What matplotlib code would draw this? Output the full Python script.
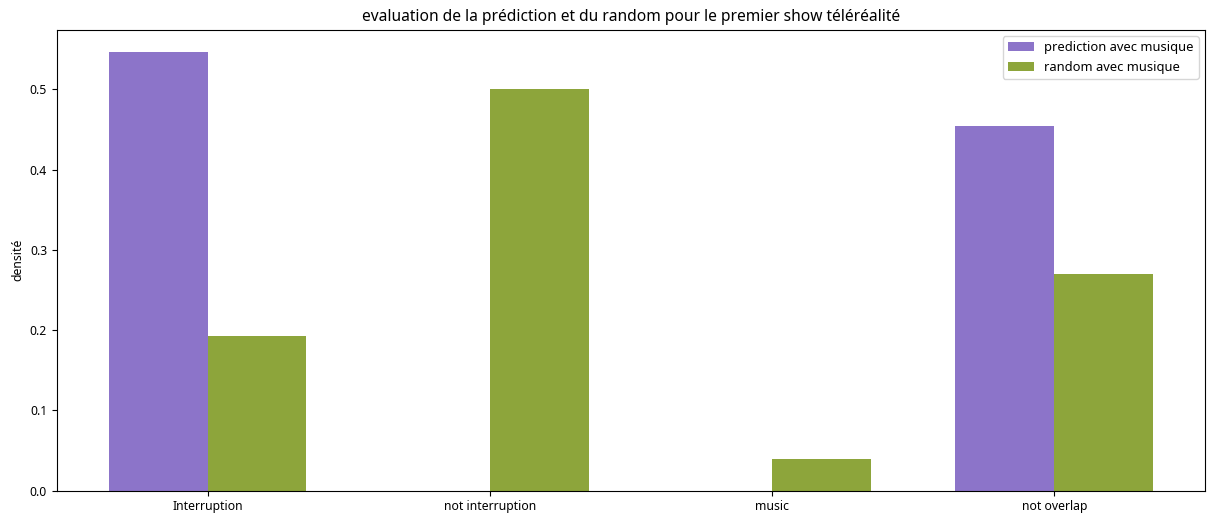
import matplotlib
matplotlib.use("Agg")
import matplotlib.pyplot as plt
import numpy as np

plt.rcParams['font.family'] = ['Noto Sans', 'DejaVu Sans']

categories = ["Interruption", "not interruption", "music", "not overlap"]
prediction = [0.547, 0.0, 0.0, 0.454]
random_vals = [0.193, 0.5, 0.04, 0.27]
yticks = [0.0, 0.1, 0.2, 0.3, 0.4, 0.5]

fig = plt.figure(figsize=(12.07, 5.13), dpi=100)
ax = fig.add_axes([0.0470, 0.0435, 0.9515, 0.8986])
x = np.arange(len(categories))
w = 0.35
ax.bar(x - w/2, prediction, w, color="#8c74c9", label="prediction avec musique")
ax.bar(x + w/2, random_vals, w, color="#8da53b", label="random avec musique")
ax.set_xticks(x)
ax.set_xticklabels(categories, fontsize=8.8)
ax.set_yticks(yticks)
ax.set_yticklabels([f"{v:.1f}" for v in yticks], fontsize=8.8)
ax.set_ylabel("densité", fontsize=8.8)
ax.set_title("evaluation de la prédiction et du random pour le premier show téléréalité", fontsize=11.2)
ax.legend(loc="upper right", fontsize=9.3)
fig.savefig("out.png", dpi=100)
